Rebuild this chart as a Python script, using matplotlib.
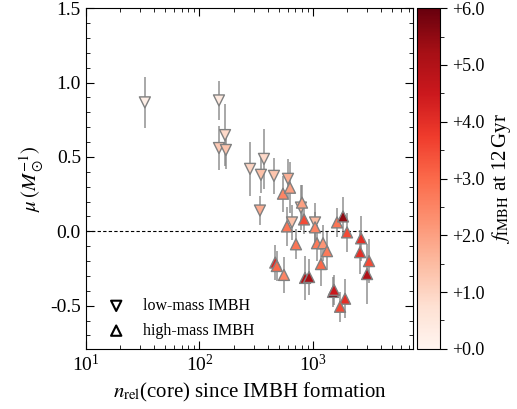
import matplotlib
matplotlib.use("Agg")
import matplotlib.pyplot as plt
import numpy as np

plt.rcParams['font.family'] = 'serif'
plt.rcParams['font.serif'] = ['Liberation Serif', 'DejaVu Serif']
plt.rcParams['mathtext.fontset'] = 'stix'

# low-mass IMBH (downward triangles)
low_n = [33.1, 148.6, 168, 148.6, 171, 279, 370, 348, 453, 602, 341, 783, 653, 1042]
low_mu = [0.867, 0.88, 0.647, 0.56, 0.547, 0.42, 0.487, 0.38, 0.373, 0.353, 0.14, 0.16, 0.06, 0.06]
low_err = [0.17, 0.13, 0.21, 0.15, 0.13, 0.18, 0.2, 0.12, 0.12, 0.13, 0.1, 0.15, 0.12, 0.13]
low_f = [0.2, 0.4, 0.9, 1.2, 1.3, 1.0, 0.9, 1.4, 1.3, 1.7, 1.8, 1.5, 1.4, 1.5]

# high-mass IMBH (upward triangles)
high_n = [544, 627, 800, 833, 590, 1042, 1627, 1837, 1993, 708, 1084, 1225, 2649, 2596,
          3112, 2990, 1327, 1175, 851, 923, 1500, 1530, 1915, 1730, 465, 480, 555]
high_mu = [0.253, 0.293, 0.193, 0.08, 0.033, 0.027, 0.06, 0.1, -0.007, -0.087, -0.08, -0.08,
           -0.047, -0.14, -0.2, -0.287, -0.133, -0.22, -0.313, -0.307, -0.407, -0.393,
           -0.453, -0.507, -0.21, -0.233, -0.293]
high_err = [0.12, 0.17, 0.12, 0.1, 0.13, 0.1, 0.1, 0.13, 0.13, 0.1, 0.12, 0.12, 0.15, 0.15,
            0.15, 0.2, 0.13, 0.15, 0.15, 0.12, 0.1, 0.1, 0.13, 0.1, 0.12, 0.1, 0.12]
high_f = [2.5, 2.0, 2.0, 3.5, 2.8, 2.5, 2.8, 5.5, 3.5, 2.8, 2.7, 2.2, 4.0, 4.0,
          3.5, 5.0, 2.7, 3.0, 5.0, 5.2, 6.0, 4.5, 4.0, 3.5, 4.2, 3.0, 2.5]

fig = plt.figure(figsize=(5.17, 4.09), dpi=100)
ax = fig.add_axes([0.166, 0.147, 0.633, 0.833])
cax = fig.add_axes([0.8066, 0.147, 0.0445, 0.833])

cmap = plt.get_cmap('Reds')
ax.axhline(0, color='k', ls='--', lw=0.8, dashes=(3, 2), zorder=1)

ax.errorbar(low_n, low_mu, yerr=low_err, fmt='none', ecolor='gray', alpha=0.8, lw=1.2, zorder=2)
ax.errorbar(high_n, high_mu, yerr=high_err, fmt='none', ecolor='gray', alpha=0.8, lw=1.2, zorder=2)
ax.scatter(low_n, low_mu, c=low_f, cmap=cmap, vmin=0, vmax=6, marker='v', s=62,
           edgecolors='gray', linewidths=1.0, zorder=3)
sc = ax.scatter(high_n, high_mu, c=high_f, cmap=cmap, vmin=0, vmax=6, marker='^', s=62,
                edgecolors='gray', linewidths=1.0, zorder=3)

# legend
ax.scatter([], [], marker='v', facecolors='none', edgecolors='k', s=55, linewidths=1.5,
           label='low-mass IMBH')
ax.scatter([], [], marker='^', facecolors='none', edgecolors='k', s=55, linewidths=1.5,
           label='high-mass IMBH')
ax.legend(loc='lower left', bbox_to_anchor=(0.005, -0.008), frameon=False, fontsize=11.5,
          handletextpad=0.7, borderpad=0.3, labelspacing=0.55)

ax.set_xscale('log')
ax.set_xlim(10, 7600)
ax.set_ylim(-0.79, 1.5)
ax.set_yticks([-0.5, 0.0, 0.5, 1.0, 1.5])
ax.set_yticklabels(['-0.5', '0.0', '0.5', '1.0', '1.5'])
ax.set_yticks(np.arange(-0.7, 1.5, 0.1), minor=True)
ax.tick_params(which='both', direction='in', top=True, right=True, labelsize=14)
ax.tick_params(which='major', length=6)
ax.tick_params(which='minor', length=3)
ax.set_xlabel(r'$n_{\rm rel}$(core) since IMBH formation', fontsize=15)
ax.set_ylabel(r'$\mu\,(M_\odot^{-1})$', fontsize=15)

cb = fig.colorbar(sc, cax=cax)
cb.set_ticks([0, 1, 2, 3, 4, 5, 6])
cb.set_ticklabels(['+0.0', '+1.0', '+2.0', '+3.0', '+4.0', '+5.0', '+6.0'])
cb.ax.set_yticks(np.arange(0.5, 6, 1.0), minor=True)
cb.ax.tick_params(which='both', labelsize=13)
cb.ax.tick_params(which='major', length=5)
cb.ax.tick_params(which='minor', length=3)
cb.set_label(r'$f_{\rm IMBH}$ at 12$\,$Gyr', fontsize=15)

fig.savefig('out.png', dpi=100)
